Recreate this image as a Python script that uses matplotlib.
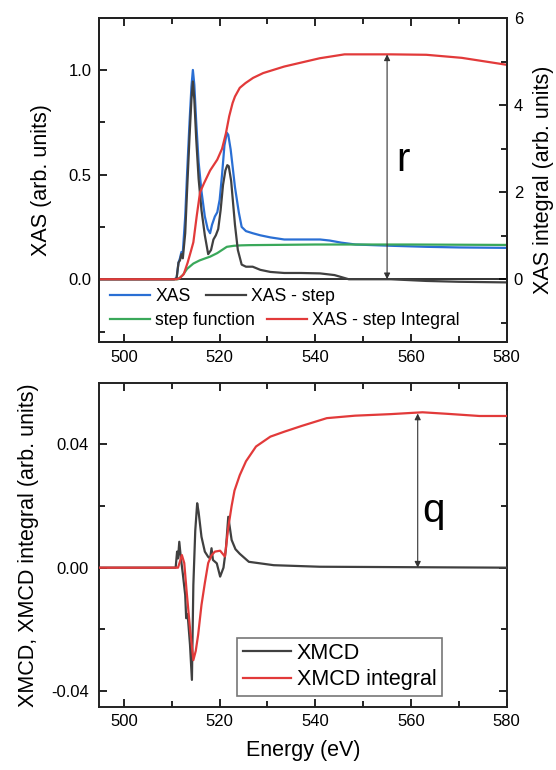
import matplotlib
matplotlib.use("Agg")
import matplotlib.pyplot as plt
from matplotlib.ticker import MultipleLocator

plt.rcParams['font.family'] = ['Liberation Sans', 'DejaVu Sans']

# ---------------- data ----------------
xas_E = [495, 510.5, 511.0, 511.4, 511.7, 512.0, 512.3, 512.8, 513.2, 513.7, 514.1, 514.4, 514.7,
         515.1, 515.6, 516.2, 516.9, 517.5, 518.0, 518.4, 519.0, 519.5, 520.0, 520.5, 521.0,
         521.5, 521.8, 522.3, 523.2, 524.0, 524.6, 525.5, 526.9, 528.5, 530.6, 533.5, 537, 541,
         543, 545.4, 548.4, 555.8, 563.2, 570, 580]
xas_v = [0, 0, 0.005, 0.08, 0.10, 0.13, 0.13, 0.30, 0.51, 0.75, 0.92, 1.0, 0.93,
         0.75, 0.56, 0.42, 0.30, 0.24, 0.22, 0.26, 0.30, 0.32, 0.38, 0.50, 0.64,
         0.70, 0.69, 0.62, 0.44, 0.32, 0.25, 0.23, 0.22, 0.21, 0.20, 0.19, 0.19, 0.19,
         0.185, 0.175, 0.166, 0.16, 0.155, 0.152, 0.15]

diff_E = [495, 510.5, 511.0, 511.4, 511.7, 512.0, 512.3, 512.8, 513.2, 513.7, 514.1, 514.4, 514.7,
          515.1, 515.6, 516.2, 516.9, 517.6, 518.2, 518.7, 519.2, 519.7, 520.2, 520.7, 521.2,
          521.6, 521.9, 522.4, 523.2, 523.8, 524.6, 525.5, 526.9, 528.5, 530.6, 533.5, 537, 541,
          544, 547, 555.8, 563.2, 570, 580]
diff_v = [0, 0, 0.005, 0.08, 0.09, 0.12, 0.10, 0.22, 0.43, 0.68, 0.86, 0.945, 0.86,
          0.67, 0.48, 0.33, 0.21, 0.12, 0.14, 0.19, 0.21, 0.24, 0.33, 0.45, 0.52,
          0.545, 0.54, 0.47, 0.26, 0.14, 0.07, 0.06, 0.06, 0.045, 0.035, 0.03, 0.03, 0.028,
          0.02, 0.0, 0.0, -0.008, -0.012, -0.015]

step_E = [495, 511.3, 512.3, 513.2, 514.5, 515.8, 517.0, 518.0, 519.5, 521.5, 523.0, 524.5,
          526.2, 540, 560, 580]
step_v = [0, 0, 0.02, 0.05, 0.075, 0.09, 0.10, 0.108, 0.125, 0.155, 0.16, 0.162,
          0.163, 0.166, 0.166, 0.164]

integ_E = [495, 511.0, 511.7, 512.5, 513.3, 514.0, 514.5, 515.2, 515.9, 516.7, 518.0, 519.5,
           520.5, 521.3, 522.0, 522.7, 523.2, 524.2, 525.4, 527, 529.1, 533.5, 537, 540.9,
           546.1, 555.8, 563.2, 570.6, 580]
integ_v = [0, 0, 0.03, 0.12, 0.38, 0.65, 0.85, 1.45, 2.0, 2.2, 2.5, 2.75,
           3.0, 3.35, 3.75, 4.05, 4.20, 4.4, 4.51, 4.63, 4.74, 4.89, 4.98, 5.08,
           5.17, 5.17, 5.16, 5.09, 4.93]

xmcd_E = [495, 510.8, 511.1, 511.3, 511.56, 511.9, 512.3, 512.8, 513.0, 513.3, 513.8, 514.2,
          514.5, 514.9, 515.3, 515.6, 516.2, 516.9, 517.6, 518.0, 518.3, 518.6, 519.4, 520.1,
          520.8, 521.3, 521.8, 522.5, 523.3, 524.2, 526.1, 531.3, 540.9, 580]
xmcd_v = [0, 0, 0.0052, 0.003, 0.0084, 0.003, -0.002, -0.0089, -0.0164, -0.0150, -0.025, -0.0364,
          -0.0056, 0.012, 0.0209, 0.018, 0.010, 0.0052, 0.0035, 0.003, 0.0063, 0.0025, 0.0014,
          -0.0029, 0.0, 0.006, 0.0165, 0.009, 0.006, 0.0045, 0.0019, 0.0008, 0.0003, 0.0]

xint_E = [495, 511.3, 511.7, 512.1, 512.6, 513.1, 513.8, 514.5, 515.0, 515.5, 516.2, 516.9,
          517.6, 518.3, 519.0, 520.1, 521.1, 521.8, 522.5, 523.1, 524.2, 525.5, 527.6, 530.6,
          533.5, 537.2, 542.4, 548.3, 555.7, 562.4, 567.6, 574.3, 580]
xint_v = [0, 0, 0.002, 0.0041, 0.0015, -0.0078, -0.0197, -0.030, -0.027, -0.0218, -0.0121, -0.005,
          0.0015, 0.004, 0.0052, 0.0055, 0.0036, 0.013, 0.020, 0.025, 0.030, 0.0345, 0.0393, 0.0425,
          0.0441, 0.046, 0.0485, 0.0493, 0.0498, 0.0504, 0.0499, 0.0492, 0.0492]

r_E, r_top = 555.0, 5.17
q_E, q_top = 561.4, 0.0500

# ---------------- styling ----------------
C_BLUE = '#2a6fd4'
C_GRAY = '#404040'
C_GREEN = '#3aa85a'
C_RED = '#e23a3a'
LW = 1.6

fig = plt.figure(figsize=(5.56, 7.70), dpi=100)
ax1 = fig.add_axes([0.1786, 0.5555, 0.7327, 0.4208])
ax1r = ax1.twinx()
ax2 = fig.add_axes([0.1786, 0.0822, 0.7327, 0.4200])

for a in (ax1, ax1r, ax2):
    for s in a.spines.values():
        s.set_linewidth(1.4)
        s.set_color('#222222')

# top panel
ax1.axhline(0, color='#222222', lw=1.3, zorder=1)
l_xas, = ax1.plot(xas_E, xas_v, color=C_BLUE, lw=LW, label='XAS', zorder=3)
l_diff, = ax1.plot(diff_E, diff_v, color=C_GRAY, lw=LW, label='XAS - step', zorder=4)
l_step, = ax1.plot(step_E, step_v, color=C_GREEN, lw=LW, label='step function', zorder=3)
l_int, = ax1r.plot(integ_E, integ_v, color=C_RED, lw=LW, label='XAS - step Integral')

ax1.set_xlim(494.84, 580)
ax1.set_ylim(-0.301, 1.247)
ax1r.set_ylim(-1.448, 6.0)
ax1.xaxis.set_major_locator(MultipleLocator(20))
ax1.xaxis.set_minor_locator(MultipleLocator(10))
ax1.yaxis.set_major_locator(MultipleLocator(0.5))
ax1.yaxis.set_minor_locator(MultipleLocator(0.25))
ax1r.yaxis.set_major_locator(MultipleLocator(2))
ax1r.yaxis.set_minor_locator(MultipleLocator(1))
ax1.tick_params(axis='both', which='both', direction='in', top=True, labelsize=12, pad=5.5)
ax1.tick_params(axis='y', which='both', right=False)
ax1.tick_params(which='major', length=5.5, width=1.2)
ax1.tick_params(which='minor', length=4.5, width=1.2)
ax1r.tick_params(axis='y', which='both', direction='in', labelsize=12, pad=5)
ax1r.tick_params(which='major', length=5.5, width=1.2)
ax1r.tick_params(which='minor', length=4.5, width=1.2)
ax1.yaxis.set_major_formatter(plt.FuncFormatter(lambda v, p: f'{v:.1f}'))
ax1.set_ylabel('XAS (arb. units)', fontsize=15.5, labelpad=12)
ax1r.set_ylabel('XAS integral (arb. units)', fontsize=15.5, labelpad=7)

ax1r.annotate('', xy=(r_E, r_top), xytext=(r_E, 0),
              arrowprops=dict(arrowstyle='<|-|>', color='#333333', lw=0.8,
                              mutation_scale=9, shrinkA=0, shrinkB=0))
ax1r.text(r_E + 1.9, 2.74, 'r', fontsize=29, ha='left', va='center')

leg_kw = dict(ncol=2, frameon=False, fontsize=12.7, handlelength=2.27, handletextpad=0.28,
              borderaxespad=0, borderpad=0)
leg1 = ax1.legend(handles=[l_xas, l_diff], loc='center left', bbox_to_anchor=(0.027, 0.140),
                  columnspacing=0.85, **leg_kw)
ax1.add_artist(leg1)
leg2 = ax1.legend(handles=[l_step, l_int], loc='center left', bbox_to_anchor=(0.027, 0.066),
                  columnspacing=0.66, **leg_kw)

# bottom panel
l_x, = ax2.plot(xmcd_E, xmcd_v, color=C_GRAY, lw=LW, label='XMCD', zorder=3)
l_xi, = ax2.plot(xint_E, xint_v, color=C_RED, lw=LW, label='XMCD integral', zorder=4)
ax2.set_xlim(494.84, 580)
ax2.set_ylim(-0.0451, 0.0598)
ax2.xaxis.set_major_locator(MultipleLocator(20))
ax2.xaxis.set_minor_locator(MultipleLocator(10))
ax2.yaxis.set_major_locator(MultipleLocator(0.04))
ax2.yaxis.set_minor_locator(MultipleLocator(0.02))
ax2.tick_params(axis='both', which='both', direction='in', top=True, right=True, labelsize=12, pad=5.5)
ax2.tick_params(axis='y', which='both', pad=7.5)
ax2.tick_params(which='major', length=5.5, width=1.2)
ax2.tick_params(which='minor', length=4.5, width=1.2)
ax2.yaxis.set_major_formatter(plt.FuncFormatter(lambda v, p: f'{v:.2f}'))
ax2.set_ylabel('XMCD, XMCD integral (arb. units)', fontsize=15.5, labelpad=9)
ax2.set_xlabel('Energy (eV)', fontsize=15.5, labelpad=8)

ax2.annotate('', xy=(q_E, q_top), xytext=(q_E, 0),
             arrowprops=dict(arrowstyle='<|-|>', color='#333333', lw=0.8,
                             mutation_scale=9, shrinkA=0, shrinkB=0))
ax2.text(q_E + 1.0, 0.0185, 'q', fontsize=29, ha='left', va='center')

leg3 = ax2.legend(handles=[l_x, l_xi], loc='lower left', bbox_to_anchor=(0.339, 0.034),
                  frameon=True, fancybox=False, fontsize=15.5, handlelength=2.26,
                  handletextpad=0.25, borderpad=0.25, labelspacing=0.25, borderaxespad=0,
                  handleheight=0.7)
leg3.get_frame().set_edgecolor('#555555')
leg3.get_frame().set_linewidth(1.2)

fig.savefig('out.png', dpi=100)
